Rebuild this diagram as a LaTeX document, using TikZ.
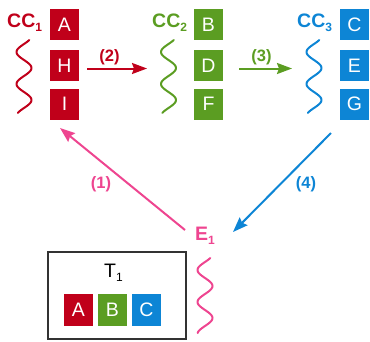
\documentclass[tikz,border=0pt]{standalone}
\usepackage{fontspec}
\setmainfont{Liberation Sans}
\usetikzlibrary{arrows.meta}

\definecolor{ccred}{HTML}{C0001A}
\definecolor{ccgreen}{HTML}{5B9D22}
\definecolor{ccblue}{HTML}{0D85D5}
\definecolor{ecpink}{HTML}{EE4590}
\definecolor{tframe}{HTML}{333333}

\newcommand{\lowsub}[1]{\raisebox{-4pt}{\fontsize{12}{12}\selectfont #1}}

\begin{document}
\begin{tikzpicture}[x=1pt,y=-1pt,
        letterbox/.style={fill=#1,text=white,minimum width=29pt,minimum height=31pt,inner sep=0pt,font=\fontsize{19.5}{19.5}\selectfont},
        cclabel/.style={text=#1,font=\bfseries\fontsize{19.5}{19.5}\selectfont,anchor=base west,inner sep=0pt},
        steplabel/.style={text=#1,font=\bfseries\fontsize{16.5}{16.5}\selectfont,inner sep=0pt},
        conn/.style={draw=#1,line width=2pt,-{Stealth[length=15pt,width=11pt,inset=2pt]}},
        wavy/.style={draw=#1,line width=2pt,line cap=round}]
        \useasboundingbox (0,0) rectangle (370,341);

        % CC1
        \node[cclabel=ccred] (cc1) at (7,27) {CC\lowsub{1}};
        \node[letterbox=ccred] (A) at (64.5,24.5) {A};
        \node[letterbox=ccred] (H) at (64.5,65.5) {H};
        \node[letterbox=ccred] (I) at (64.5,104) {I};
        \draw[wavy=ccred] plot[domain=0:73,samples=60,smooth,variable=\x] ({24-7.5*cos(11.25*(\x-12))},{40+\x});

        % CC2
        \node[cclabel=ccgreen] (cc2) at (152,27) {CC\lowsub{2}};
        \node[letterbox=ccgreen] (B) at (208.5,24.5) {B};
        \node[letterbox=ccgreen] (D) at (208.5,65.5) {D};
        \node[letterbox=ccgreen] (F) at (208.5,104) {F};
        \draw[wavy=ccgreen] plot[domain=0:73,samples=60,smooth,variable=\x] ({168.5-7.5*cos(11.25*(\x-12))},{40+\x});

        % CC3
        \node[cclabel=ccblue] (cc3) at (297,27) {CC\lowsub{3}};
        \node[letterbox=ccblue] (C) at (354.5,24.5) {C};
        \node[letterbox=ccblue] (E) at (354.5,65.5) {E};
        \node[letterbox=ccblue] (G) at (354.5,104) {G};
        \draw[wavy=ccblue] plot[domain=0:73,samples=60,smooth,variable=\x] ({314-7.5*cos(11.25*(\x-12))},{40+\x});

        % E1
        \node[cclabel=ecpink] (e1) at (195,240) {E\lowsub{1}};
        \draw[wavy=ecpink] plot[domain=0:75,samples=60,smooth,variable=\x] ({205-7.5*cos(11.25*(\x-12))},{258+\x});

        % T1
        \node[draw=tframe,line width=1.3pt,minimum width=138pt,minimum height=87pt,inner sep=0pt] (tbox) at (117,295.5) {};
        \node[font=\fontsize{19.5}{19.5}\selectfont,anchor=base west,inner sep=0pt] (t1) at (104,277) {T\lowsub{1}};
        \node[letterbox=ccred,minimum height=32pt] (tA) at (78.5,310) {A};
        \node[letterbox=ccgreen,minimum height=32pt] (tB) at (112.5,310) {B};
        \node[letterbox=ccblue,minimum height=32pt] (tC) at (146.5,310) {C};

        % connectors
        \coordinate (a2s) at (87,68.5);
        \coordinate (a2e) at (147,68.5);
        \coordinate (a3s) at (239,68.5);
        \coordinate (a3e) at (292,68.5);
        \coordinate (a1s) at (185,230);
        \coordinate (a1e) at (60,128);
        \coordinate (a4s) at (331,133);
        \coordinate (a4e) at (233,232);
        \draw[conn=ccred] (a2s) -- (a2e);
        \draw[conn=ccgreen] (a3s) -- (a3e);
        \draw[conn=ecpink] (a1s) -- (a1e);
        \draw[conn=ccblue] (a4s) -- (a4e);

        % step labels
        \node[steplabel=ccred] (s2) at (109.5,57) {(2)};
        \node[steplabel=ccgreen] (s3) at (261.5,57) {(3)};
        \node[steplabel=ecpink] (s1) at (101,184) {(1)};
        \node[steplabel=ccblue] (s4) at (306,184) {(4)};
\end{tikzpicture}
\end{document}
